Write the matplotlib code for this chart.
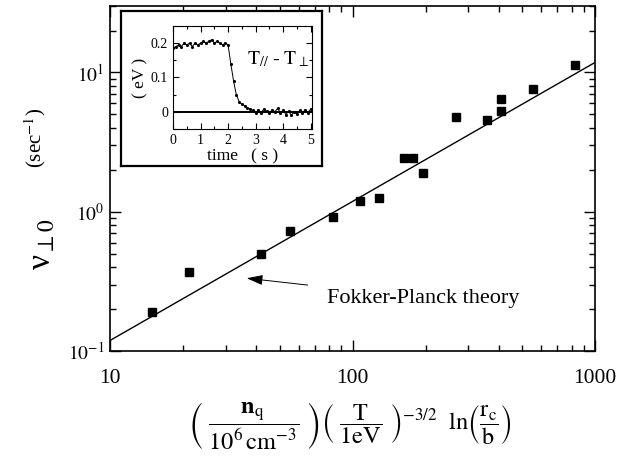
import matplotlib
matplotlib.use("Agg")
import matplotlib.pyplot as plt
import numpy as np
from matplotlib.ticker import LogLocator, FixedLocator, MultipleLocator, NullFormatter

plt.rcParams['font.family'] = ['Liberation Serif', 'DejaVu Serif']
plt.rcParams['mathtext.fontset'] = 'stix'

# main data: collision rate vs. density parameter
x_data = [14.9, 21.2, 42.0, 55.2, 82.8, 107, 129, 163, 177, 195, 267, 360, 411, 411, 557, 830]
nu_data = [0.189, 0.368, 0.50, 0.73, 0.92, 1.20, 1.25, 2.43, 2.43, 1.89, 4.77, 4.59, 5.33, 6.5, 7.59, 11.4]

# Fokker-Planck theory line
theory_x = [10, 1000]
theory_y = [0.119, 11.8]

# inset: T_par - T_perp vs time
t_inset = [round(0.1 * i, 1) for i in range(51)]
dT_inset = [0.185, 0.19, 0.195, 0.19, 0.2, 0.195, 0.2, 0.19, 0.2, 0.195,
            0.2, 0.205, 0.2, 0.205, 0.21, 0.2, 0.205, 0.2, 0.195, 0.2,
            0.195, 0.14, 0.09, 0.05, 0.03, 0.022, 0.018, 0.012, 0.008, 0.004,
            -0.004, 0.006, -0.002, 0.008, 0.002, -0.004, 0.006, 0.0, 0.01, -0.002,
            0.004, -0.008, 0.002, -0.01, 0.0, -0.006, 0.004, -0.004, 0.006, -0.002, 0.008]

fig = plt.figure(figsize=(6.33, 4.66), dpi=100)
ax = fig.add_axes([0.1738, 0.2468, 0.7662, 0.7403])

ax.set_xscale('log')
ax.set_yscale('log')
ax.plot(theory_x, theory_y, color='black', lw=1.0)
ax.plot(x_data, nu_data, 's', color='black', ms=5.5)
ax.set_xlim(10, 1000)
ax.set_ylim(0.1, 30)

ax.set_xticks([10, 100, 1000])
ax.set_xticklabels(['10', '100', '1000'], fontsize=15.5)
ax.set_yticks([0.1, 1, 10])
ax.set_yticklabels([r'$10^{-1}$', r'$10^{0}$', r'$10^{1}$'], fontsize=14)
ax.xaxis.set_minor_locator(LogLocator(base=10, subs=np.arange(2, 10)))
ax.yaxis.set_minor_locator(LogLocator(base=10, subs=np.arange(2, 10)))
ax.xaxis.set_minor_formatter(NullFormatter())
ax.yaxis.set_minor_formatter(NullFormatter())
ax.tick_params(which='both', direction='in', top=True, right=True, width=1.0)
ax.tick_params(which='major', length=8)
ax.tick_params(which='minor', length=4)
ax.tick_params(axis='x', which='major', pad=13)
ax.tick_params(axis='y', which='major', pad=4)
for s in ax.spines.values():
    s.set_linewidth(1.2)

ax.annotate('Fokker-Planck theory', xy=(36.6, 0.333), xytext=(78.5, 0.24),
            fontsize=16, va='center', ha='left',
            arrowprops=dict(arrowstyle='-|>,head_length=0.7,head_width=0.22',
                            color='black', lw=0.7,
                            mutation_scale=14, shrinkA=12, shrinkB=0))

# axis labels
fig.text(0.066, 0.475, 'ν$_{\\perp 0}$', rotation=90, fontsize=24,
         ha='center', va='center')
fig.text(0.055, 0.705, r'(sec$^{-1}$)', rotation=90, fontsize=15,
         ha='center', va='center')
fig.text(0.553, 0.087,
         r'$\left(\ \dfrac{\mathbf{n}_\mathrm{q}}{10^6\,\mathrm{cm}^{-3}}\ \right)'
         r'\left(\ \dfrac{\mathrm{T}}{\mathrm{1eV}}\ \right)^{-3/2}\ \ '
         r'\mathrm{ln}\left(\dfrac{\mathrm{r_c}}{\mathrm{b}}\right)$',
         fontsize=17.5, ha='center', va='center')

# inset frame
frame = fig.add_axes([0.191, 0.6438, 0.3175, 0.3326])
frame.set_xticks([])
frame.set_yticks([])
for s in frame.spines.values():
    s.set_linewidth(1.6)

ins = fig.add_axes([0.2733, 0.7232, 0.2196, 0.221])
ins.plot(t_inset, dT_inset, '.-', color='black', ms=2.5, lw=0.7)
ins.axhline(0, color='black', lw=1.4)
ins.set_xlim(0, 5.05)
ins.set_ylim(-0.05, 0.25)
ins.xaxis.set_major_locator(FixedLocator([0, 1, 2, 3, 4, 5]))
ins.xaxis.set_minor_locator(MultipleLocator(0.5))
ins.yaxis.set_major_locator(FixedLocator([0, 0.1, 0.2]))
ins.yaxis.set_minor_locator(MultipleLocator(0.05))
ins.set_xticklabels(['0', '1', '2', '3', '4', '5'], fontsize=10)
ins.set_yticklabels(['0', '0.1', '0.2'], fontsize=10)
ins.tick_params(which='both', direction='in', top=True, right=True, width=0.8)
ins.tick_params(which='major', length=4)
ins.tick_params(which='minor', length=2)
ins.set_xlabel('time   ( s )', fontsize=12.5, labelpad=1)
ins.set_ylabel('( eV )', fontsize=12.5, labelpad=2)
ins.text(0.53, 0.68, r'$\mathrm{T}_{//}$ - $\mathrm{T}_{\perp}$', transform=ins.transAxes,
         fontsize=14, ha='left', va='center')

fig.savefig('out.png', dpi=100)
